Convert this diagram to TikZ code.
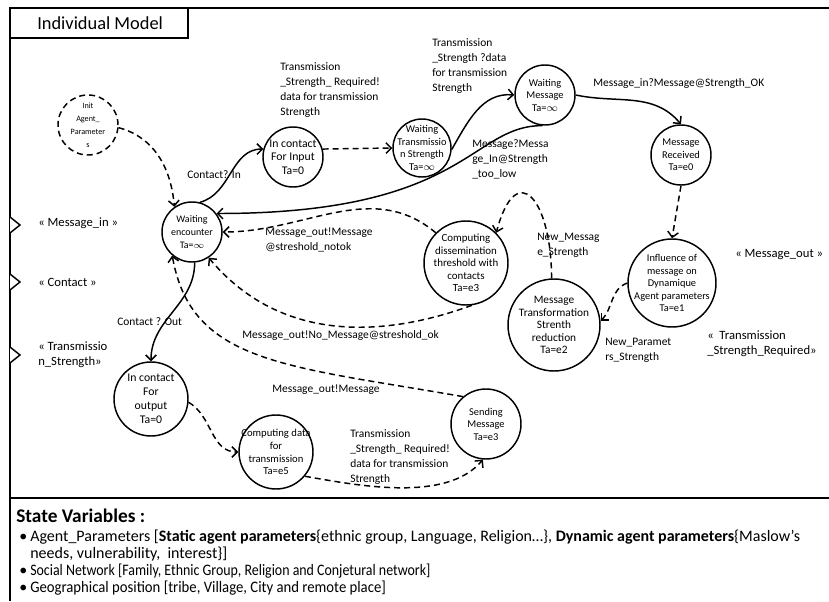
\documentclass[tikz,border=0pt]{standalone}
\usepackage{fontspec}
\setmainfont{Carlito}
\usetikzlibrary{arrows.meta,calc}
\tikzstyle{l2}=[line width=1.1]
\tikzstyle{frame}=[line width=1.5]
\tikzstyle{state}=[circle, draw=black, l2, align=center, inner sep=-8pt, font=\fontsize{7.8}{9.4}\selectfont]
\tikzstyle{initstate}=[state, dash pattern=on 4.5pt off 3pt]
\tikzstyle{lbl}=[anchor=west, align=left, inner sep=0pt, font=\fontsize{8.6}{11.2}\selectfont]
\tikzstyle{port}=[anchor=west, align=left, inner sep=0pt, font=\fontsize{9.5}{11.5}\selectfont]
\tikzstyle{tr}=[l2, -{Straight Barb[length=4pt,width=8pt]}]
\tikzstyle{trd}=[tr, dash pattern=on 4.5pt off 3pt]

\begin{document}
\begin{tikzpicture}[x=0.75pt, y=0.75pt]
    \useasboundingbox (0,0) rectangle (829,601);
    % frame and title
    \draw[frame] (10,0) -- (10,593) -- (829,593);
    \draw[frame] (10,563) -- (188,563) -- (188,593);
    \draw[line width=2.2] (10,103) -- (829,103);
    \node[anchor=west, inner sep=0pt, font=\fontsize{13.8}{16}\selectfont] at (37,578) (title) {Individual Model};

    % ports
    \draw[l2, fill=white] (10,384) -- (20,376) -- (10,368);
    \draw[l2, fill=white] (10,327) -- (20,319) -- (10,311);
    \draw[l2, fill=white] (10,254) -- (20,246) -- (10,238);
    \node[port] at (38,378) (pin) {« Message\_in »};
    \node[port] at (38,319) (pcontact) {« Contact »};
    \node[port] at (38,246) (pstrength) {« Transmissio\\n\_Strength»};
    \node[port] at (735,346) (pout) {« Message\_out »};
    \node[port] at (707,257) (preq) {«~ Transmission\\\_Strength\_Required»};

    % states
    \node[initstate, minimum size=45pt, font=\fontsize{6.1}{9.7}\selectfont] at (88,476) (init) {Init\\Agent\_\\Parameter\\s};
    \node[state, minimum size=45pt, font=\fontsize{7.5}{9.6}\selectfont] at (192,369) (we) {Waiting\\encounter\\Ta=$\infty$};
    \node[state, minimum size=45pt, font=\fontsize{8.8}{10.2}\selectfont] at (293,444) (ici) {In contact\\For Input\\Ta=0};
    \node[state, minimum size=43.5pt] at (422,453) (wt) {Waiting\\Transmissio\\n Strength\\Ta=$\infty$};
    \node[state, minimum size=45pt] at (545,506) (wm) {Waiting\\Message\\Ta=$\infty$};
    \node[state, minimum size=45pt] at (681,446) (mr) {Message\\Received\\Ta=e0};
    \node[state, minimum size=66pt] at (672,318) (inf) {Influence of\\message on\\Dynamique\\Agent parameters\\Ta=e1};
    \node[state, minimum size=69pt, font=\fontsize{8.5}{9.4}\selectfont] at (554,276) (mtr) {Message\\Transformation\\Strenth\\reduction\\Ta=e2};
    \node[state, minimum size=63pt, font=\fontsize{8.2}{9.4}\selectfont] at (466,338) (cd) {Computing\\dissemination\\threshold with\\contacts\\Ta=e3};
    \node[state, minimum size=55.5pt, font=\fontsize{8.8}{10.5}\selectfont] at (151,202) (ico) {In contact\\For\\output\\Ta=0};
    \node[state, minimum size=52.5pt] at (486,177) (sm) {Sending\\Message\\Ta=e3};
    \node[state, minimum size=55.5pt, font=\fontsize{8}{9.6}\selectfont] at (276,149) (cdt) {Computing data\\for\\transmission\\Ta=e5};

    % transition labels
    \node[lbl] at (280,511) (lreqin) {Transmission\\\_Strength\_ Required!\\data for transmission\\Strength};
    \node[lbl] at (432,535) (lstrength) {Transmission\\\_Strength ?data\\for transmission\\Strength};
    \node[lbl] at (593,517) (lok) {Message\_in?Message@Strength\_OK};
    \node[lbl] at (472,442) (llow) {Message?Messa\\ge\_In@Strength\\\_too\_low};
    \node[lbl] at (187,426) (lcin) {Contact? In};
    \node[lbl] at (265,361) (lnotok) {Message\_out!Message\\@streshold\_notok};
    \node[lbl] at (537,356) (lnewmsg) {New\_Messag\\e\_Strength};
    \node[lbl] at (242,265) (lthok) {Message\_out!No\_Message@streshold\_ok};
    \node[lbl] at (117,279) (lcout) {Contact ? Out};
    \node[lbl] at (605,251) (lnewpar) {New\_Paramet\\rs\_Strength};
    \node[lbl] at (272,211) (lmsgout) {Message\_out!Message};
    \node[lbl] at (350,144) (lreqout) {Transmission\\\_Strength\_ Required!\\data for transmission\\Strength};

    % transitions
    \draw[trd] (init.-5) to[out=-15,in=95] (we.125);
    \draw[tr] (we.75) to[out=15,in=180] (ici.165);
    \draw[trd] (ici.15) -- (wt.west);
    \draw[tr] (wt.-3) to[out=60,in=175] (wm.west);
    \draw[tr] (wm.east) to[out=-12,in=130] (mr.north);
    \draw[tr] (wm.265) .. controls +(-72,0) and +(250,0) .. (we.37);
    \draw[trd] (mr.south) -- (inf.north);
    \draw[trd] (inf.180) to[out=200,in=45] (mtr.5);
    \draw[trd] (mtr.93) to[out=90,in=75,looseness=2.8] (cd.45);
    \draw[trd] (cd.135) to[out=140,in=0] (we.east);
    \draw[trd] (cd.-82) to[out=200,in=-50] (we.-57);
    \draw[tr] (we.-85) to[out=-90,in=90] (ico.north);
    \draw[trd] (ico.-5) to[out=-30,in=180] (cdt.west);
    \draw[trd] (cdt.-40) to[out=-10,in=-130,looseness=0.8] (sm.-95);
    \draw[trd] (sm.130) .. controls +(-177,31) and +(19,-108) .. (we.230);

    % state variables
    \node[anchor=west, inner sep=0pt, font=\bfseries\fontsize{14.5}{16}\selectfont] at (16,85) (svtitle) {State Variables :};
    \node[anchor=north west, align=left, inner sep=0pt, font=\fontsize{12}{12.75}\selectfont] at (19,71) (svlist) {%
        \makebox[8.25pt][l]{\textbullet}Agent\_Parameters [\textbf{Static agent parameters}\{ethnic group, Language, Religion…\}, \textbf{Dynamic agent parameters}\{Maslow's\\
        \hspace*{8.25pt}needs, vulnerability,~ interest\}]\\
        \makebox[8.25pt][l]{\textbullet}\scalebox{0.87}[1]{Social Network [Family, Ethnic Group, Religion and Conjetural network]}\\
        \makebox[8.25pt][l]{\textbullet}\scalebox{0.92}[1]{Geographical position [tribe, Village, City and remote place]}};
\end{tikzpicture}
\end{document}
